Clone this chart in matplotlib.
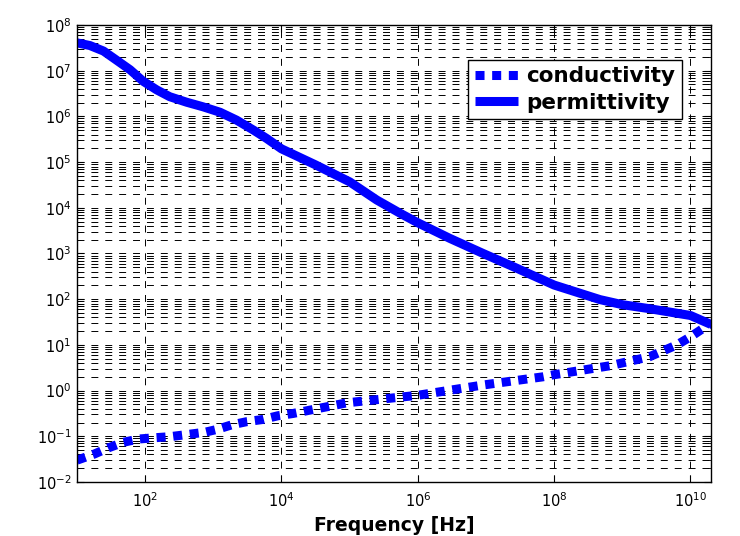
import math
import matplotlib
matplotlib.use("Agg")
import matplotlib.pyplot as plt
from matplotlib.ticker import FixedLocator, FuncFormatter, NullFormatter

# Permittivity (solid line)
freqPerm = [10, 15.5, 24.5, 38, 60, 93, 148, 229, 407, 708, 1260, 2190, 3890,
            6030, 1e4, 3.16e4, 1e5, 2.5e5, 5.5e5, 1e6, 2.95e6, 9.1e6, 2.8e7,
            1e8, 4.7e8, 1e9, 2.5e9, 1e10, 2e10]
permittivity = [4.07e7, 3.55e7, 2.69e7, 1.70e7, 1.05e7, 5.9e6, 3.8e6, 2.7e6,
                2.04e6, 1.62e6, 1.23e6, 8.3e5, 5.0e5, 3.3e5, 1.95e5, 8.7e4,
                3.7e4, 1.48e4, 7.6e3, 4.7e3, 2.14e3, 1.0e3, 479, 204, 98, 76,
                62, 44, 28]

# Conductivity (dotted line)
freqCond = [10, 18, 29, 48, 79, 138, 229, 427, 759, 1120, 1860, 3090, 5370,
            8900, 1.48e4, 9.1e4, 1e6, 8.9e6, 6.8e7, 9.5e7, 6.6e8, 2.5e9,
            6.3e9, 1e10, 1.8e10, 2e10]
conductivity = [0.030, 0.041, 0.056, 0.074, 0.087, 0.093, 0.098, 0.110, 0.123,
                0.141, 0.178, 0.209, 0.234, 0.282, 0.316, 0.54, 0.79, 1.32,
                2.0, 2.2, 3.5, 5.5, 10, 15, 27, 30]

xTicks = [1e2, 1e4, 1e6, 1e8, 1e10]
yTicks = [1e-2, 1e-1, 1e0, 1e1, 1e2, 1e3, 1e4, 1e5, 1e6, 1e7, 1e8]
xLimits = (10, 2e10)
yLimits = (1e-2, 1e8)

plt.rcParams["font.family"] = ["DejaVu Sans"]
plt.rcParams["lines.scale_dashes"] = False

fig = plt.figure(figsize=(7.4, 5.36), dpi=100)
ax = fig.add_axes([77 / 740, 1 - 482 / 536, 634 / 740, 457 / 536])

ax.plot(freqCond, conductivity, color=(0, 0, 1), lw=6.5,
        linestyle=(0, (6.5, 5.5)), dash_capstyle="butt", label="conductivity")
ax.plot(freqPerm, permittivity, color=(0, 0, 1), lw=6.5,
        solid_capstyle="butt", solid_joinstyle="round", label="permittivity")

ax.set_xscale("log")
ax.set_yscale("log")
ax.set_xlim(*xLimits)
ax.set_ylim(*yLimits)

# ticks
yMinor = [m * t for t in yTicks[:-1] for m in range(2, 10)]
ax.xaxis.set_major_locator(FixedLocator(xTicks))
ax.xaxis.set_minor_locator(FixedLocator([]))
ax.yaxis.set_major_locator(FixedLocator(yTicks))
ax.yaxis.set_minor_locator(FixedLocator(yMinor))
ax.yaxis.set_minor_formatter(NullFormatter())
fmt = FuncFormatter(lambda v, p: r"$10^{%d}$" % round(math.log10(v)))
ax.xaxis.set_major_formatter(fmt)
ax.yaxis.set_major_formatter(fmt)
ax.tick_params(which="both", direction="in", top=True, right=True,
               labelsize=10.5, colors="black")
ax.tick_params(axis="x", which="major", length=5, pad=7)
ax.tick_params(axis="y", which="major", length=5, pad=4)
ax.tick_params(which="minor", length=3)

# dashed grid
gridStyle = dict(color="black", lw=0.7, linestyle=(0, (5, 5)))
ax.grid(True, which="major", axis="both", **gridStyle)
ax.grid(True, which="minor", axis="y", **gridStyle)
ax.set_axisbelow(True)

for s in ax.spines.values():
    s.set_linewidth(1.0)
    s.set_color("black")

ax.set_xlabel("Frequency [Hz]", fontsize=13.5, fontweight="bold", labelpad=4)

leg = ax.legend(loc="upper right", bbox_to_anchor=((682 - 77) / 634, 1 - (60 - 25) / 457),
                borderaxespad=0, fancybox=False, framealpha=1, edgecolor="black",
                prop=dict(size=15.5, weight="bold"), handlelength=2.0,
                handletextpad=0.4, borderpad=0.3, labelspacing=0.3)
leg.get_frame().set_linewidth(1.0)

fig.savefig("out.png", dpi=100, facecolor="white")
